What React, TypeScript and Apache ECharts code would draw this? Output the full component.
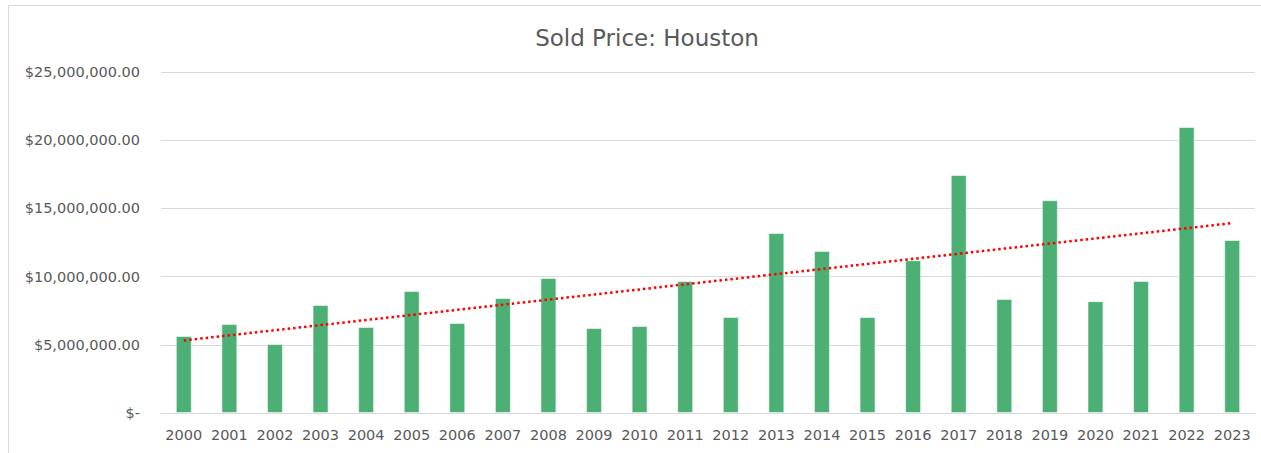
import React, { useEffect, useRef } from "react";
import * as echarts from "echarts";

const years: string[] = [
  "2000", "2001", "2002", "2003", "2004", "2005", "2006", "2007", "2008", "2009", "2010", "2011",
  "2012", "2013", "2014", "2015", "2016", "2017", "2018", "2019", "2020", "2021", "2022", "2023",
];

const soldPrice: number[] = [
  5650000, 6520000, 5060000, 7920000, 6300000, 8940000, 6600000, 8430000, 9900000, 6230000, 6380000, 9680000,
  7040000, 13200000, 11880000, 7040000, 11200000, 17450000, 8360000, 15600000, 8200000, 9680000, 20970000, 12680000,
];

const yTicks: number[] = [0, 5000000, 10000000, 15000000, 20000000, 25000000];

function linearTrend(vals: number[]): number[] {
  const n = vals.length;
  const mx = (n - 1) / 2;
  const my = vals.reduce((a, b) => a + b, 0) / n;
  let sxy = 0;
  let sxx = 0;
  vals.forEach((v, i) => {
    sxy += (i - mx) * (v - my);
    sxx += (i - mx) * (i - mx);
  });
  const slope = sxy / sxx;
  return vals.map((_, i) => my + slope * (i - mx));
}

function fmtMoney(v: number): string {
  if (v === 0) return "$-";
  return "$" + v.toLocaleString("en-US", { minimumFractionDigits: 2, maximumFractionDigits: 2 });
}

export default function App() {
  const ref = useRef<HTMLDivElement>(null);

  useEffect(() => {
    if (!ref.current) return;
    const chart = echarts.init(ref.current, undefined, { renderer: "svg" });
    const font = "DejaVu Sans";
    const trend = linearTrend(soldPrice);
    chart.setOption({
      animation: false,
      backgroundColor: "#ffffff",
      textStyle: { fontFamily: font },
      title: {
        text: "Sold Price: Houston",
        left: 642,
        textAlign: "center",
        top: 21,
        textStyle: { fontFamily: font, fontSize: 23, fontWeight: "normal", color: "#595959" },
      },
      graphic: [
        {
          type: "rect",
          shape: { x: 8.5, y: 5.5, width: 1300, height: 500 },
          style: { fill: "none", stroke: "#d9d9d9", lineWidth: 1 },
          silent: true,
        },
      ],
      grid: { left: 161, right: 6, top: 72, bottom: 40, containLabel: false },
      xAxis: {
        type: "category",
        data: years,
        axisLine: { show: true, lineStyle: { color: "#d9d9d9", width: 1 } },
        axisTick: { show: false },
        axisLabel: { color: "#595959", fontSize: 14.5, fontFamily: font, margin: 14, interval: 0 },
      },
      yAxis: {
        type: "value",
        min: yTicks[0],
        max: yTicks[yTicks.length - 1],
        interval: 5000000,
        axisLine: { show: false },
        axisTick: { show: false },
        splitLine: { lineStyle: { color: "#d9d9d9", width: 1 } },
        axisLabel: {
          color: "#595959",
          fontSize: 14.5,
          fontFamily: font,
          margin: 21,
          formatter: (v: number) => fmtMoney(v),
        },
      },
      series: [
        {
          name: "Sold Price",
          type: "bar",
          data: soldPrice,
          barWidth: "35%",
          itemStyle: { color: "#4caf73", borderColor: "rgba(255,255,255,0.55)", borderWidth: 1 },
        },
        {
          name: "Trend",
          type: "line",
          data: trend,
          symbol: "none",
          smooth: false,
          z: 5,
          lineStyle: { color: "#ff0000", width: 2.5, type: [2.5, 3] },
        },
      ],
    });
    return () => chart.dispose();
  }, []);

  return (
    <div
      ref={ref}
      style={{ position: "fixed", left: 0, top: 0, width: 1261, height: 453 }}
    />
  );
}
